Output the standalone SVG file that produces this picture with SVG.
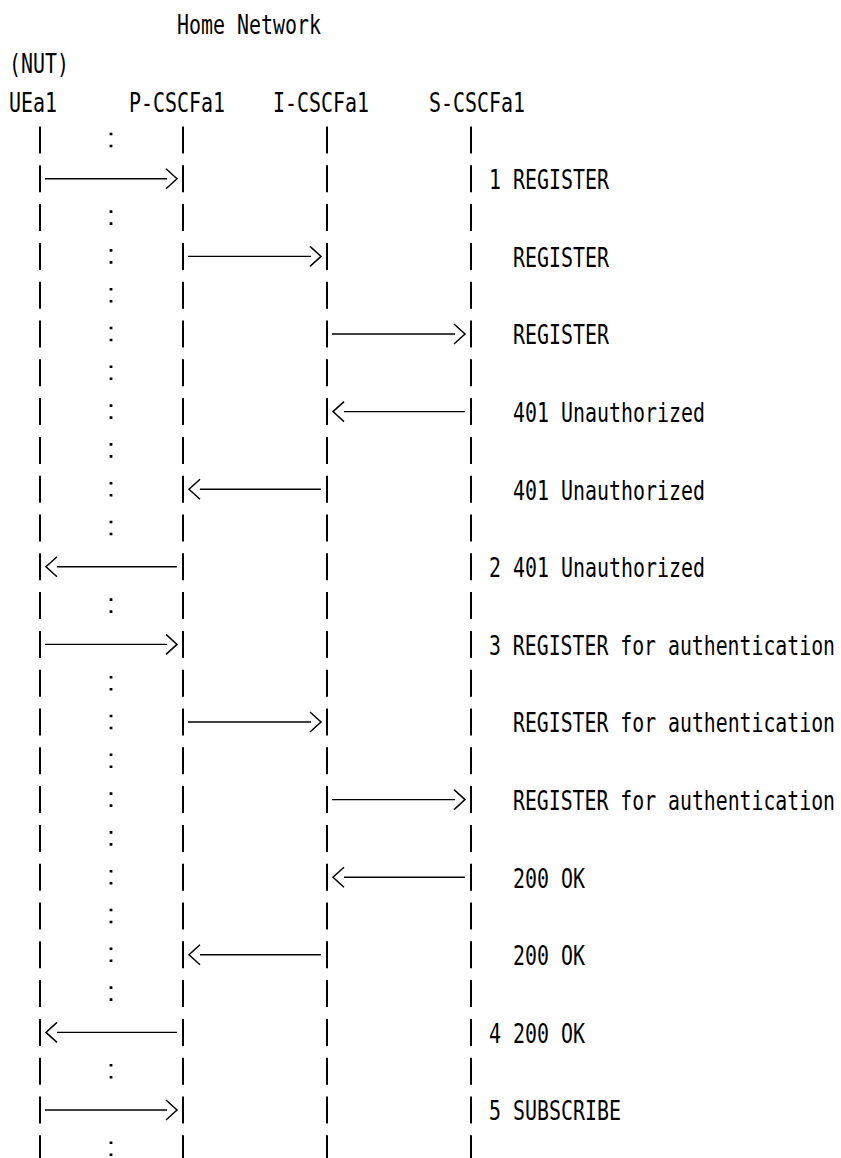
<svg xmlns="http://www.w3.org/2000/svg" xmlns:xlink="http://www.w3.org/1999/xlink" width="841" height="1158" viewBox="0 0 841 1158">
<style>
.t{font-family:"DejaVu Sans Mono","Liberation Mono",monospace;font-size:20px;fill:#000}
.ll{stroke:#000;stroke-width:2;stroke-dasharray:27 11.8;fill:none}
.dots{stroke:#000;stroke-width:2.8;stroke-dasharray:2.6 9.4 2.6 24.2;fill:none}
.msg{stroke:#000;stroke-width:1.4;fill:none}
.hd{stroke:#000;stroke-width:1.5;fill:none;stroke-linejoin:miter}
</style>
<defs>
<path id="hr" d="M-11,-10 L0,0 L-11,10"/>
<path id="hl" d="M11,-10 L0,0 L11,10"/>
</defs>
<rect width="841" height="1158" fill="#fff"/>
<g id="title">
<text class="t" transform="scale(1,1.3)" x="177" y="26.154" textLength="144" lengthAdjust="spacingAndGlyphs">Home Network</text>
<text class="t" transform="scale(1,1.3)" x="9" y="56.154" textLength="60" lengthAdjust="spacingAndGlyphs">(NUT)</text>
</g>
<g id="UEa1">
<text class="t" transform="scale(1,1.3)" x="9" y="86.154" textLength="48" lengthAdjust="spacingAndGlyphs">UEa1</text>
<line class="ll" x1="40" y1="126.5" x2="40" y2="1158"/>
</g>
<g id="P-CSCFa1">
<text class="t" transform="scale(1,1.3)" x="129" y="86.154" textLength="96" lengthAdjust="spacingAndGlyphs">P-CSCFa1</text>
<line class="ll" x1="183" y1="126.5" x2="183" y2="1158"/>
</g>
<g id="I-CSCFa1">
<text class="t" transform="scale(1,1.3)" x="273" y="86.154" textLength="96" lengthAdjust="spacingAndGlyphs">I-CSCFa1</text>
<line class="ll" x1="327" y1="126.5" x2="327" y2="1158"/>
</g>
<g id="S-CSCFa1">
<text class="t" transform="scale(1,1.3)" x="429" y="86.154" textLength="96" lengthAdjust="spacingAndGlyphs">S-CSCFa1</text>
<line class="ll" x1="471" y1="126.5" x2="471" y2="1158"/>
</g>
<g id="separator">
<line class="dots" x1="111" y1="132.7" x2="111" y2="147.3"/>
<line class="dots" x1="111" y1="210.3" x2="111" y2="535.3"/>
<line class="dots" x1="111" y1="598.3" x2="111" y2="612.9"/>
<line class="dots" x1="111" y1="675.9" x2="111" y2="1000.9"/>
<line class="dots" x1="111" y1="1063.9" x2="111" y2="1078.5"/>
<line class="dots" x1="111" y1="1141.5" x2="111" y2="1156.1"/>
</g>
<g id="connectors">
<line class="msg" x1="45" y1="178.8" x2="167" y2="178.8"/><use class="hd" href="#hr" x="177" y="178.8"/>
<line class="msg" x1="188" y1="256.4" x2="311" y2="256.4"/><use class="hd" href="#hr" x="321" y="256.4"/>
<line class="msg" x1="332" y1="334" x2="455" y2="334"/><use class="hd" href="#hr" x="465" y="334"/>
<line class="msg" x1="344" y1="411.6" x2="465" y2="411.6"/><use class="hd" href="#hl" x="333" y="411.6"/>
<line class="msg" x1="200" y1="489.2" x2="321" y2="489.2"/><use class="hd" href="#hl" x="189" y="489.2"/>
<line class="msg" x1="57" y1="566.8" x2="177" y2="566.8"/><use class="hd" href="#hl" x="46" y="566.8"/>
<line class="msg" x1="45" y1="644.4" x2="167" y2="644.4"/><use class="hd" href="#hr" x="177" y="644.4"/>
<line class="msg" x1="188" y1="722" x2="311" y2="722"/><use class="hd" href="#hr" x="321" y="722"/>
<line class="msg" x1="332" y1="799.6" x2="455" y2="799.6"/><use class="hd" href="#hr" x="465" y="799.6"/>
<line class="msg" x1="344" y1="877.2" x2="465" y2="877.2"/><use class="hd" href="#hl" x="333" y="877.2"/>
<line class="msg" x1="200" y1="954.8" x2="321" y2="954.8"/><use class="hd" href="#hl" x="189" y="954.8"/>
<line class="msg" x1="57" y1="1032.4" x2="177" y2="1032.4"/><use class="hd" href="#hl" x="46" y="1032.4"/>
<line class="msg" x1="45" y1="1110" x2="167" y2="1110"/><use class="hd" href="#hr" x="177" y="1110"/>
</g>
<g id="labels">
<text class="t" transform="scale(1,1.3)" x="489" y="145.615" textLength="120" lengthAdjust="spacingAndGlyphs">1 REGISTER</text>
<text class="t" transform="scale(1,1.3)" x="513" y="205.308" textLength="96" lengthAdjust="spacingAndGlyphs">REGISTER</text>
<text class="t" transform="scale(1,1.3)" x="513" y="265" textLength="96" lengthAdjust="spacingAndGlyphs">REGISTER</text>
<text class="t" transform="scale(1,1.3)" x="513" y="324.692" textLength="192" lengthAdjust="spacingAndGlyphs">401 Unauthorized</text>
<text class="t" transform="scale(1,1.3)" x="513" y="384.385" textLength="192" lengthAdjust="spacingAndGlyphs">401 Unauthorized</text>
<text class="t" transform="scale(1,1.3)" x="489" y="444.077" textLength="216" lengthAdjust="spacingAndGlyphs">2 401 Unauthorized</text>
<text class="t" transform="scale(1,1.3)" x="489" y="503.769" textLength="346" lengthAdjust="spacingAndGlyphs">3 REGISTER for authentication</text>
<text class="t" transform="scale(1,1.3)" x="513" y="563.462" textLength="322" lengthAdjust="spacingAndGlyphs">REGISTER for authentication</text>
<text class="t" transform="scale(1,1.3)" x="513" y="623.154" textLength="322" lengthAdjust="spacingAndGlyphs">REGISTER for authentication</text>
<text class="t" transform="scale(1,1.3)" x="513" y="682.846" textLength="72" lengthAdjust="spacingAndGlyphs">200 OK</text>
<text class="t" transform="scale(1,1.3)" x="513" y="742.538" textLength="72" lengthAdjust="spacingAndGlyphs">200 OK</text>
<text class="t" transform="scale(1,1.3)" x="489" y="802.231" textLength="96" lengthAdjust="spacingAndGlyphs">4 200 OK</text>
<text class="t" transform="scale(1,1.3)" x="489" y="861.923" textLength="132" lengthAdjust="spacingAndGlyphs">5 SUBSCRIBE</text>
</g>
</svg>
